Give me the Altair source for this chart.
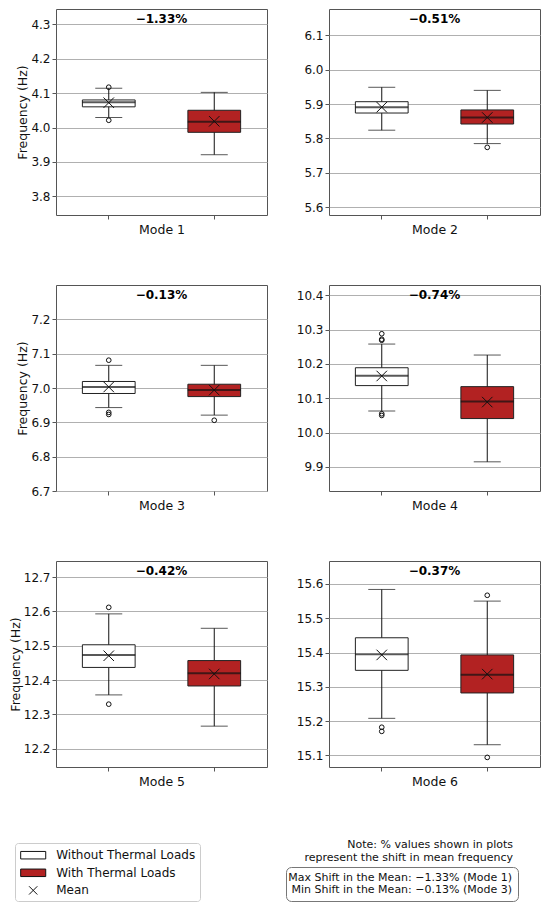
import altair as alt
import pandas as pd

# ---------------- data ----------------
modes = ["Mode 1", "Mode 2", "Mode 3", "Mode 4", "Mode 5", "Mode 6"]
groups = ["Without Thermal Loads", "With Thermal Loads"]
legend_labels = ["Without Thermal Loads", "With Thermal Loads", "Mean"]
fill_colors = ["#ffffff", "#b22222", "transparent"]
pct_labels = ["\u22121.33%", "\u22120.51%", "\u22120.13%", "\u22120.74%", "\u22120.42%", "\u22120.37%"]

y_min = [3.746, 5.577, 6.700, 9.830, 12.147, 15.066]
y_max = [4.344, 6.177, 7.300, 10.430, 12.747, 15.667]
y_ticks = [
    [3.8, 3.9, 4.0, 4.1, 4.2, 4.3],
    [5.6, 5.7, 5.8, 5.9, 6.0, 6.1],
    [6.7, 6.8, 6.9, 7.0, 7.1, 7.2],
    [9.9, 10.0, 10.1, 10.2, 10.3, 10.4],
    [12.2, 12.3, 12.4, 12.5, 12.6, 12.7],
    [15.1, 15.2, 15.3, 15.4, 15.5, 15.6],
]

# Without thermal loads
wo_lo = [4.029, 5.824, 6.943, 10.063, 12.357, 15.208]
wo_q1 = [4.060, 5.874, 6.984, 10.137, 12.437, 15.348]
wo_med = [4.073, 5.891, 7.003, 10.166, 12.473, 15.395]
wo_q3 = [4.080, 5.907, 7.019, 10.189, 12.503, 15.443]
wo_hi = [4.114, 5.949, 7.066, 10.258, 12.593, 15.584]
wo_mean = [4.072, 5.891, 7.003, 10.165, 12.471, 15.393]
wo_out = [[4.117, 4.021], [], [7.081, 6.929, 6.923],
          [10.288, 10.272, 10.269, 10.055, 10.050], [12.612, 12.330], [15.182, 15.170]]

# With thermal loads
w_lo = [3.921, 5.785, 6.921, 9.915, 12.266, 15.131]
w_q1 = [3.986, 5.842, 6.975, 10.041, 12.383, 15.282]
w_med = [4.017, 5.861, 6.994, 10.091, 12.420, 15.335]
w_q3 = [4.050, 5.883, 7.011, 10.134, 12.457, 15.393]
w_hi = [4.102, 5.940, 7.066, 10.226, 12.551, 15.550]
w_mean = [4.018, 5.861, 6.994, 10.089, 12.418, 15.337]
w_out = [[], [5.774], [6.906], [], [], [15.567, 15.094]]

note_title = ["Note: % values shown in plots", "represent the shift in mean frequency"]
note_lines = ["Max Shift in the Mean: \u22121.33% (Mode 1)", "Min Shift in the Mean: \u22120.13% (Mode 3)"]

# ---------------- styles ----------------
PW, PH = 211, 206
FONT = "DejaVu Sans"
X_PATH = "M-1,-1L1,1M-1,1L1,-1"
LEG_X_PATH = "M-0.55,-0.55L0.55,0.55M-0.55,0.55L0.55,-0.55"
LEG_RECT_PATH = "M-1.67,-0.5H1.67V0.5H-1.67Z"

fill_scale = alt.Scale(domain=legend_labels, range=fill_colors)
shape_scale = alt.Scale(domain=legend_labels, range=[LEG_RECT_PATH, LEG_RECT_PATH, LEG_X_PATH])
stroke_scale = alt.Scale(domain=legend_labels, range=["#111111", "#111111", "#111111"])

fill_legend = alt.Legend(
    title=None, orient="none", legendX=-41, legendY=834,
    padding=4.2, symbolSize=225, symbolOffset=6, labelOffset=15, rowPadding=3.6,
    labelFontSize=12, labelFont=FONT, labelColor="#111111", labelLimit=300,
    strokeColor="#cccccc", fillColor="#ffffff", cornerRadius=3,
    symbolOpacity=1, symbolStrokeWidth=1,
)


def panel(i):
    stats = pd.DataFrame({
        "group": groups,
        "lo": [wo_lo[i], w_lo[i]],
        "q1": [wo_q1[i], w_q1[i]],
        "med": [wo_med[i], w_med[i]],
        "q3": [wo_q3[i], w_q3[i]],
        "hi": [wo_hi[i], w_hi[i]],
        "mean": [wo_mean[i], w_mean[i]],
    })
    outl = pd.DataFrame({
        "group": [groups[0]] * len(wo_out[i]) + [groups[1]] * len(w_out[i]),
        "value": wo_out[i] + w_out[i],
    })
    pct = pd.DataFrame({"t": [pct_labels[i]]})

    x = alt.X("group:N", sort=groups,
              scale=alt.Scale(domain=groups, paddingInner=0.5, paddingOuter=0.25),
              axis=alt.Axis(labels=False, grid=False, ticks=True, tickSize=4,
                            domain=False, titlePadding=4, titleFontSize=12.5),
              title=modes[i])

    ytitle = "Frequency (Hz)" if i % 2 == 0 else None

    def yenc(field):
        return alt.Y(field, type="quantitative",
                     scale=alt.Scale(domain=[y_min[i], y_max[i]], nice=False, zero=False),
                     axis=alt.Axis(values=y_ticks[i], format=".1f", grid=True, domain=False,
                                   tickSize=4, labelPadding=2, titlePadding=1,
                                   titleFontSize=12.5),
                     title=ytitle)

    base = alt.Chart(stats)
    whisk = base.mark_rule(color="#111111", strokeWidth=1).encode(x=x, y=yenc("lo"), y2="hi")
    box = base.mark_bar(stroke="#222222", strokeWidth=1).encode(
        x=x, y=yenc("q1"), y2="q3",
        fill=alt.Fill("group:N", scale=fill_scale, legend=fill_legend))
    cap_lo = base.mark_tick(orient="horizontal", color="#111111", thickness=1, size=27).encode(x=x, y=yenc("lo"))
    cap_hi = base.mark_tick(orient="horizontal", color="#111111", thickness=1, size=27).encode(x=x, y=yenc("hi"))
    med = base.mark_tick(orient="horizontal", color="#111111", thickness=2, size=53).encode(x=x, y=yenc("med"))
    mean = base.mark_point(shape=X_PATH, filled=False, color="#111111", strokeWidth=1,
                           size=110, opacity=1).encode(x=x, y=yenc("mean"))
    outp = alt.Chart(outl).mark_point(shape="circle", filled=False, color="#111111",
                                      strokeWidth=1, size=22, opacity=1).encode(x=x, y=yenc("value"))
    txt = alt.Chart(pct).mark_text(fontWeight="bold", fontSize=12, baseline="middle",
                                   align="center", color="black").encode(
        x=alt.value(PW / 2), y=alt.value(10), text="t:N")
    layers = [whisk, box, cap_lo, cap_hi, med, mean, outp, txt]
    if i == 0:
        # hidden layer that only feeds the merged fill/shape/stroke legend
        key = alt.Chart(pd.DataFrame({"label": legend_labels})).mark_point(
            filled=True, opacity=0, size=225).encode(
            x=alt.value(PW / 2), y=alt.value(PH / 2),
            fill=alt.Fill("label:N", scale=fill_scale, legend=fill_legend),
            shape=alt.Shape("label:N", scale=shape_scale, legend=fill_legend),
            stroke=alt.Stroke("label:N", scale=stroke_scale, legend=fill_legend))
        layers.append(key)
    return alt.layer(*layers).properties(width=PW, height=PH)


panels = [panel(i) for i in range(6)]
grid6 = alt.concat(*panels, columns=2, bounds="flush",
                   spacing=alt.RowColnumber(row=70, column=62)).resolve_scale(
    x="independent", y="independent")

# ---------------- note (bottom right) ----------------
spacer = alt.Chart(pd.DataFrame({"t": [""]})).mark_text().encode(text="t:N").properties(
    width=208, height=1, view=alt.ViewBackground(stroke="transparent"))

note_df = pd.DataFrame({"line": note_lines})
note = alt.Chart(note_df).mark_text(align="right", baseline="middle", fontSize=11,
                                    color="#111111").encode(
    x=alt.value(226),
    y=alt.Y("line:N", sort=note_lines,
            scale=alt.Scale(type="point", domain=note_lines, padding=0.95), axis=None),
    text="line:N").properties(
    width=232, height=34,
    view=alt.ViewBackground(stroke="#777777", strokeWidth=1, cornerRadius=5),
    title=alt.TitleParams(text=note_title, anchor="end", fontSize=11, fontWeight="normal",
                          lineHeight=13, offset=4, dx=-5, color="#111111"))

bottom = alt.hconcat(spacer, note, spacing=20).resolve_scale(x="independent", y="independent")

chart = alt.vconcat(grid6, bottom, spacing=49).resolve_scale(
    x="independent", y="independent").properties(
    padding={"left": 0, "top": 0, "right": 0, "bottom": 0}
).configure(font=FONT).configure_view(
    stroke="#555555", strokeWidth=1
).configure_axis(
    labelFont=FONT, titleFont=FONT, labelFontSize=12, labelColor="#111111",
    titleColor="#111111", titleFontWeight="normal", gridColor="#b0b0b0", gridWidth=1,
    tickColor="#555555"
)

chart.save("out.html", embed_options={"renderer": "svg", "actions": False})
